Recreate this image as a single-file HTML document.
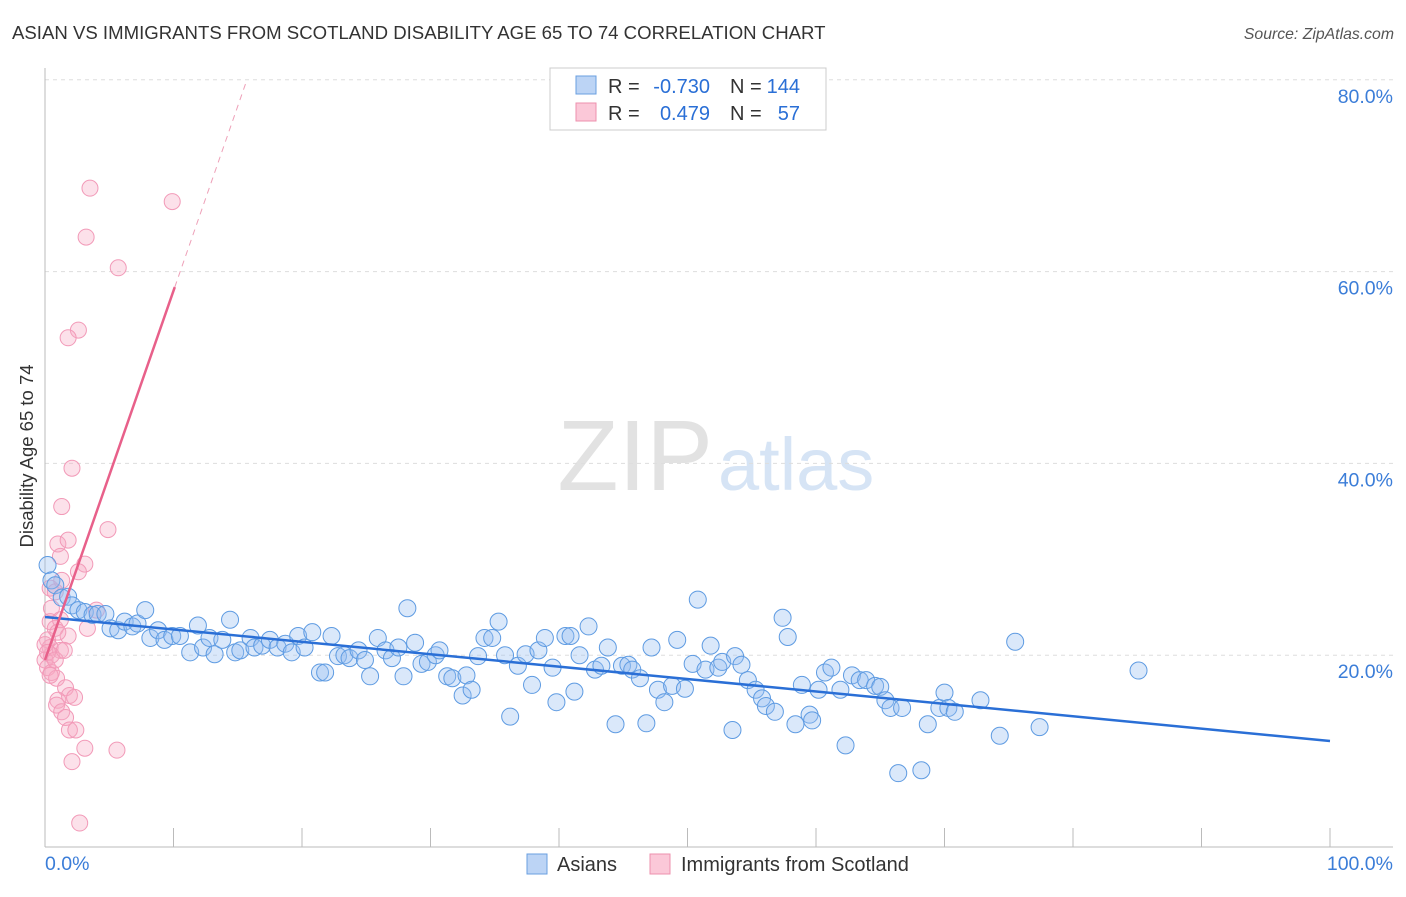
<!DOCTYPE html>
<html><head><meta charset="utf-8"><style>
body{margin:0;background:#fff;font-family:"Liberation Sans",sans-serif;}
svg text{font-family:"Liberation Sans",sans-serif;}
</style></head><body>
<svg id="c" width="1406" height="892" xmlns="http://www.w3.org/2000/svg">
<text x="12" y="39" font-size="18.6" fill="#333">ASIAN VS IMMIGRANTS FROM SCOTLAND DISABILITY AGE 65 TO 74 CORRELATION CHART</text>
<text x="1394" y="39" font-size="15.8" fill="#555" font-style="italic" text-anchor="end">Source: ZipAtlas.com</text>
<text x="713" y="490" font-size="100" fill="#e2e2e2" text-anchor="end" font-family="Liberation Serif,serif">ZIP</text>
<text x="718" y="490" font-size="74" fill="#d6e4f5">atlas</text>
<g id="grid"></g><g id="axes"></g><g id="pts"></g><g id="trend"></g>
<text transform="translate(33,456) rotate(-90)" font-size="18.5" fill="#333" text-anchor="middle">Disability Age 65 to 74</text>
<text x="45" y="870" font-size="19.5" fill="#3b7dd8">0.0%</text>
<text x="1393" y="870" font-size="19.5" fill="#3b7dd8" text-anchor="end">100.0%</text>
<g>
<rect x="550" y="68" width="276" height="62" fill="#fff" stroke="#ccc"/>
<rect x="576" y="76" width="20" height="18" fill="#bcd4f5" stroke="#6a9fe0"/>
<rect x="576" y="103" width="20" height="18" fill="#fbc8d8" stroke="#ee90ae"/>
<text x="608" y="93" font-size="20" fill="#333">R =</text>
<text x="710" y="93" font-size="20" fill="#2a6fd6" text-anchor="end">-0.730</text>
<text x="730" y="93" font-size="20" fill="#333">N =</text>
<text x="800" y="93" font-size="20" fill="#2a6fd6" text-anchor="end">144</text>
<text x="608" y="120" font-size="20" fill="#333">R =</text>
<text x="710" y="120" font-size="20" fill="#2a6fd6" text-anchor="end">0.479</text>
<text x="730" y="120" font-size="20" fill="#333">N =</text>
<text x="800" y="120" font-size="20" fill="#2a6fd6" text-anchor="end">57</text>
</g>
<g>
<rect x="527" y="854" width="20" height="20" fill="#bcd4f5" stroke="#6a9fe0"/>
<text x="557" y="871" font-size="20" fill="#333">Asians</text>
<rect x="650" y="854" width="20" height="20" fill="#fbc8d8" stroke="#ee90ae"/>
<text x="681" y="871" font-size="20" fill="#333">Immigrants from Scotland</text>
</g>
</svg>
<script>
const yTicks=[20,40,60,80];
const yTickLabels=["20.0%","40.0%","60.0%","80.0%"];
const asianX=[0.2,0.5,0.8,1.3,1.8,2.1,2.6,3.1,3.7,4.1,4.7,5.1,5.7,6.2,6.8,7.2,7.8,8.2,8.8,9.3,9.9,10.5,11.3,11.9,12.3,12.8,13.2,13.8,14.4,14.8,15.2,16.0,16.3,16.9,17.5,18.1,18.7,19.2,19.7,20.2,20.8,21.4,21.8,22.3,22.8,23.3,23.7,24.4,24.9,25.3,25.9,26.5,27.0,27.5,27.9,28.2,28.8,29.3,29.8,30.4,30.7,31.3,31.7,32.5,32.8,33.2,33.7,34.2,34.8,35.3,35.8,36.2,36.8,37.4,37.9,38.4,38.9,39.5,39.8,40.5,40.9,41.2,41.6,42.3,42.8,43.3,43.8,44.4,44.9,45.4,45.7,46.3,46.8,47.2,47.7,48.2,48.8,49.2,49.8,50.4,50.8,51.4,51.8,52.4,52.7,53.5,53.7,54.2,54.7,55.3,55.8,56.1,56.8,57.4,57.8,58.4,58.9,59.5,59.7,60.2,60.7,61.2,61.9,62.3,62.8,63.4,63.9,64.6,65.0,65.4,65.8,66.4,66.7,68.2,68.7,69.6,70.0,70.3,70.8,72.8,74.3,75.5,77.4,85.1];
const asianY=[29.4,27.8,27.3,26.0,26.1,25.2,24.7,24.5,24.2,24.3,24.3,22.8,22.6,23.5,23.0,23.3,24.7,21.8,22.6,21.6,22.0,22.0,20.3,23.1,20.8,21.8,20.1,21.6,23.7,20.3,20.5,21.8,20.8,21.0,21.6,20.8,21.2,20.3,22.0,20.8,22.4,18.2,18.2,22.0,19.9,20.0,19.7,20.5,19.5,17.8,21.8,20.5,19.7,20.8,17.8,24.9,21.3,19.1,19.3,20.0,20.5,17.8,17.6,15.8,17.9,16.4,19.9,21.8,21.8,23.5,20.0,13.6,18.9,20.1,16.9,20.5,21.8,18.7,15.1,22.0,22.0,16.2,20.0,23.0,18.5,18.9,20.8,12.8,18.9,19.0,18.5,17.6,12.9,20.8,16.4,15.1,16.8,21.6,16.5,19.1,25.8,18.5,21.0,18.7,19.3,12.2,19.9,19.0,17.4,16.4,15.5,14.7,14.1,23.9,21.9,12.8,16.9,13.8,13.2,16.4,18.2,18.7,16.4,10.6,17.9,17.4,17.4,16.8,16.7,15.3,14.5,7.7,14.5,8.0,12.8,14.5,16.1,14.5,14.1,15.3,11.6,21.4,12.5,18.4];
const scotX=[3.5,9.9,3.2,5.7,2.6,1.8,2.1,1.3,4.9,1.0,1.8,1.2,3.1,2.6,0.4,1.3,0.8,0.5,4.0,0.4,3.3,0.8,1.8,0.2,0.4,1.2,0.5,0.0,0.2,0.5,0.9,1.6,1.9,2.3,1.0,0.9,1.3,1.6,1.9,2.4,3.1,5.6,2.1,2.7,0.0,0.2,0.8,0.4,1.5,1.2,1.0];
const scotY=[68.7,67.3,63.6,60.4,53.9,53.1,39.5,35.5,33.1,31.6,32.0,30.3,29.5,28.7,27.0,27.8,26.6,24.9,24.7,23.5,22.8,22.8,22.0,21.6,20.8,20.5,20.0,19.5,18.7,18.2,17.6,16.6,15.8,15.6,15.3,14.8,14.1,13.5,12.2,12.2,10.3,10.1,8.9,2.5,21.1,20.3,19.5,17.9,20.5,23.7,22.4];
const asianTrend=[23.98,11.05]; // y at x=0, x=100
const scotTrend=[19.5,3.85]; // intercept, slope
const NS="http://www.w3.org/2000/svg";
const X=v=>45+v*12.85, Y=v=>847-v*9.59;
function mk(t,a,p){const e=document.createElementNS(NS,t);for(const k in a)e.setAttribute(k,a[k]);p.appendChild(e);return e;}
const grid=document.getElementById('grid'),axes=document.getElementById('axes'),pts=document.getElementById('pts'),tr=document.getElementById('trend');
yTicks.forEach((v,i)=>{
 const l=mk('line',{x1:45,x2:1393,y1:Y(v),y2:Y(v),stroke:'#ddd','stroke-dasharray':'4,4'},grid);
 
 
 const t=mk('text',{x:1393,y:Y(v)+23,'font-size':19.5,fill:'#3b7dd8','text-anchor':'end'},grid);
 t.textContent=yTickLabels[i];
 
 
});
const la=mk('line',{x1:45,x2:45,y1:68,y2:847,stroke:'#bbb'},axes);


const lb=mk('line',{x1:45,x2:1393,y1:847,y2:847,stroke:'#bbb'},axes);


for(let k=0;k<=10;k++){const t=mk('line',{x1:X(k*10),x2:X(k*10),y1:828,y2:847,stroke:'#bbb'},axes);
 
 }
scotX.forEach((v,i)=>{const c=mk('circle',{cx:X(v),cy:Y(scotY[i]),r:8,fill:'rgba(246,168,196,0.35)',stroke:'#f29ab8','stroke-width':1},pts);
 
 });
asianX.forEach((v,i)=>{const c=mk('circle',{cx:X(v),cy:Y(asianY[i]),r:8.5,fill:'rgba(150,190,240,0.35)',stroke:'#5e9be2','stroke-width':1},pts);
 
 });
const a=mk('line',{x1:X(0),y1:Y(asianTrend[0]),x2:X(100),y2:Y(asianTrend[1]),stroke:'#2a6fd6','stroke-width':2.5},tr);


const xs=10.1,xe=(80-scotTrend[0])/scotTrend[1];
const s=mk('line',{x1:X(0),y1:Y(scotTrend[0]),x2:X(xs),y2:Y(scotTrend[0]+scotTrend[1]*xs),stroke:'#e8608a','stroke-width':2.5},tr);


const sd=mk('line',{x1:X(xs),y1:Y(scotTrend[0]+scotTrend[1]*xs),x2:X(xe),y2:Y(80),stroke:'#eea0b8','stroke-width':1,'stroke-dasharray':'6,5'},tr);


</script>
</body></html>
